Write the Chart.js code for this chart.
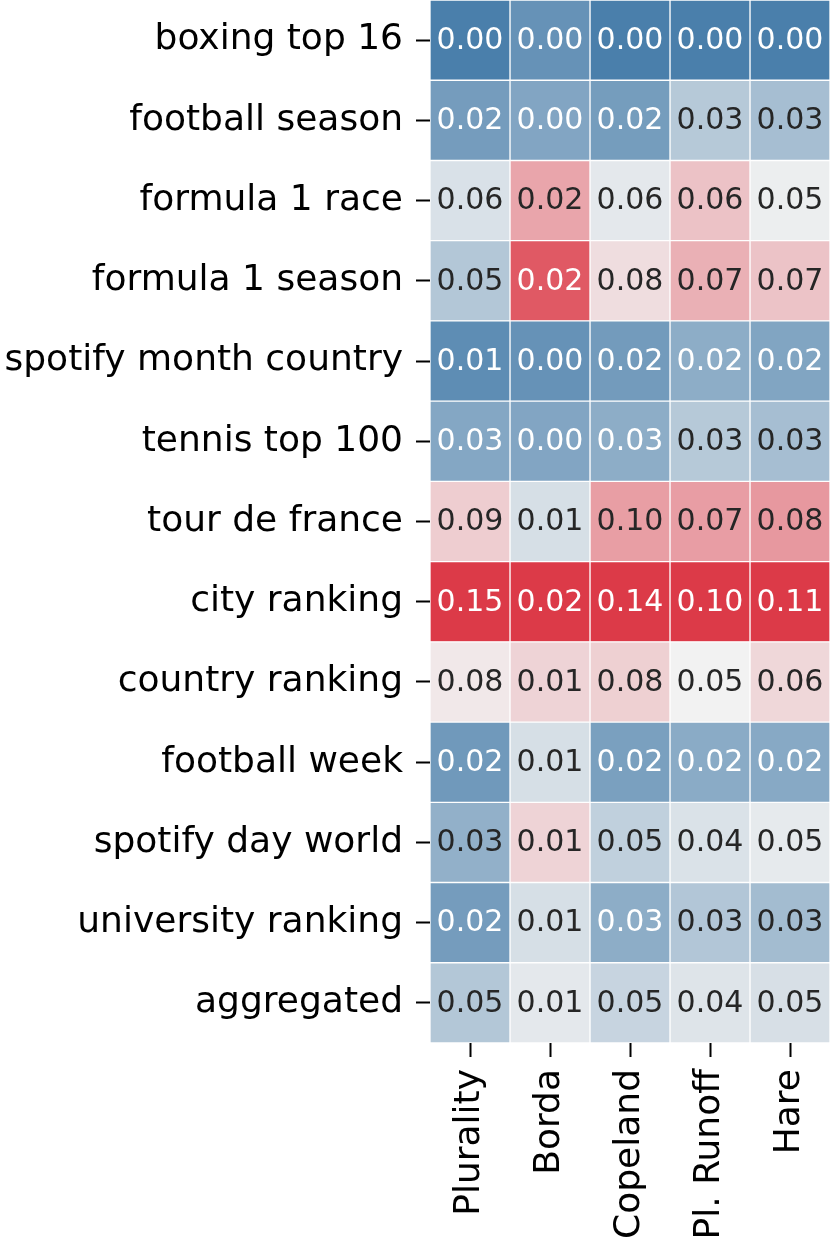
<!DOCTYPE html>
<html>
<head>
<meta charset="utf-8">
<script src="https://cdn.jsdelivr.net/npm/chart.js@4"></script>
<style>
  body { margin: 0; background: #fff; }
  #wrap { width: 831px; height: 1243px; }
</style>
</head>
<body>
<div id="wrap"><canvas id="heatmap" width="831" height="1243"></canvas></div>
<script>
const rows = [
  'boxing top 16', 'football season', 'formula 1 race', 'formula 1 season',
  'spotify month country', 'tennis top 100', 'tour de france', 'city ranking',
  'country ranking', 'football week', 'spotify day world', 'university ranking',
  'aggregated'
];
const methods = ['Plurality', 'Borda', 'Copeland', 'Pl. Runoff', 'Hare'];

// one array per column, rows in the order above
const plurality = [0.000, 0.019, 0.064, 0.047, 0.009, 0.026, 0.090, 0.150, 0.079, 0.017, 0.032, 0.019, 0.047];
const borda     = [0.001, 0.003, 0.016, 0.021, 0.001, 0.003, 0.009, 0.023, 0.013, 0.009, 0.013, 0.009, 0.010];
const copeland  = [0.000, 0.018, 0.064, 0.078, 0.017, 0.028, 0.102, 0.140, 0.083, 0.020, 0.049, 0.028, 0.052];
const runoff    = [0.000, 0.032, 0.063, 0.068, 0.020, 0.032, 0.073, 0.100, 0.050, 0.019, 0.043, 0.031, 0.044];
const hare      = [0.000, 0.030, 0.053, 0.069, 0.018, 0.030, 0.082, 0.110, 0.063, 0.020, 0.051, 0.029, 0.046];
const columns = [plurality, borda, copeland, runoff, hare];

// colour scale limits, per column
const colorMin = [0, -0.001, 0, 0, 0];
const colorMax = [0.15, 0.023, 0.14, 0.10, 0.11];

const lowColor = [74, 127, 171];
const midColor = [242, 242, 242];
const highColor = [220, 58, 72];

function mix(a, b, t) {
  return a.map((v, i) => Math.round(v + (b[i] - v) * t));
}

function cellRgb(col, row) {
  let v = columns[col][row];
  let t = 2 * (v - colorMin[col]) / (colorMax[col] - colorMin[col]) - 1;
  t = Math.max(-1, Math.min(1, t));
  return t < 0 ? mix(midColor, lowColor, -t) : mix(midColor, highColor, t);
}

function luminance(rgb) {
  let c = rgb.map(v => {
    v = v / 255;
    return v <= 0.03928 ? v / 12.92 : Math.pow((v + 0.055) / 1.055, 2.4);
  });
  return 0.2126 * c[0] + 0.7152 * c[1] + 0.0722 * c[2];
}

const cellLabels = {
  id: 'cellLabels',
  afterDatasetsDraw(chart) {
    const ctx = chart.ctx;
    ctx.save();
    ctx.font = '30px "DejaVu Sans"';
    ctx.textAlign = 'center';
    ctx.textBaseline = 'middle';
    chart.data.datasets.forEach((ds, j) => {
      chart.getDatasetMeta(j).data.forEach((bar, i) => {
        let rgb = cellRgb(j, i);
        ctx.fillStyle = luminance(rgb) > 0.408 ? '#262626' : '#ffffff';
        ctx.fillText(columns[j][i].toFixed(2), (bar.x + bar.base) / 2, bar.y + 1);
      });
    });
    ctx.restore();
  }
};

const labelFont = {family: '"DejaVu Sans"', size: 36};

new Chart('heatmap', {
  type: 'bar',
  data: {
    labels: rows,
    datasets: methods.map((m, j) => ({
      label: m,
      data: rows.map(() => [j, j + 1]),
      backgroundColor: ctx => {
        let rgb = cellRgb(j, ctx.dataIndex);
        return 'rgb(' + rgb.join(',') + ')';
      },
      borderColor: '#ffffff',
      borderWidth: 1,
      borderSkipped: false,
      grouped: false,
      barPercentage: 1,
      categoryPercentage: 1
    }))
  },
  options: {
    indexAxis: 'y',
    responsive: false,
    animation: false,
    layout: {padding: {left: 0, right: 1, top: 0, bottom: 0}},
    scales: {
      x: {
        type: 'linear',
        position: 'bottom',
        min: 0,
        max: 5,
        afterBuildTicks: s => { s.ticks = methods.map((m, i) => ({value: i + 0.5})); },
        afterFit: s => {
          s.height = 200;
          s.paddingLeft = 0;
          s.paddingRight = 0;
        },
        ticks: {
          callback: (v, i) => methods[i],
          autoSkip: false,
          minRotation: 90,
          maxRotation: 90,
          padding: 12,
          color: '#000',
          font: labelFont
        },
        grid: {drawOnChartArea: false, tickLength: 14, tickWidth: 2, tickColor: '#000'},
        border: {display: false}
      },
      y: {
        type: 'category',
        offset: true,
        afterFit: s => {
          s.width = 430;
          s.paddingTop = 0;
          s.paddingBottom = 0;
        },
        ticks: {
          autoSkip: false,
          padding: 13,
          color: '#000',
          font: labelFont
        },
        grid: {drawOnChartArea: false, offset: false, tickLength: 14, tickWidth: 2, tickColor: '#000'},
        border: {display: false}
      }
    },
    plugins: {
      legend: {display: false},
      tooltip: {enabled: false}
    }
  },
  plugins: [cellLabels]
});
</script>
</body>
</html>
